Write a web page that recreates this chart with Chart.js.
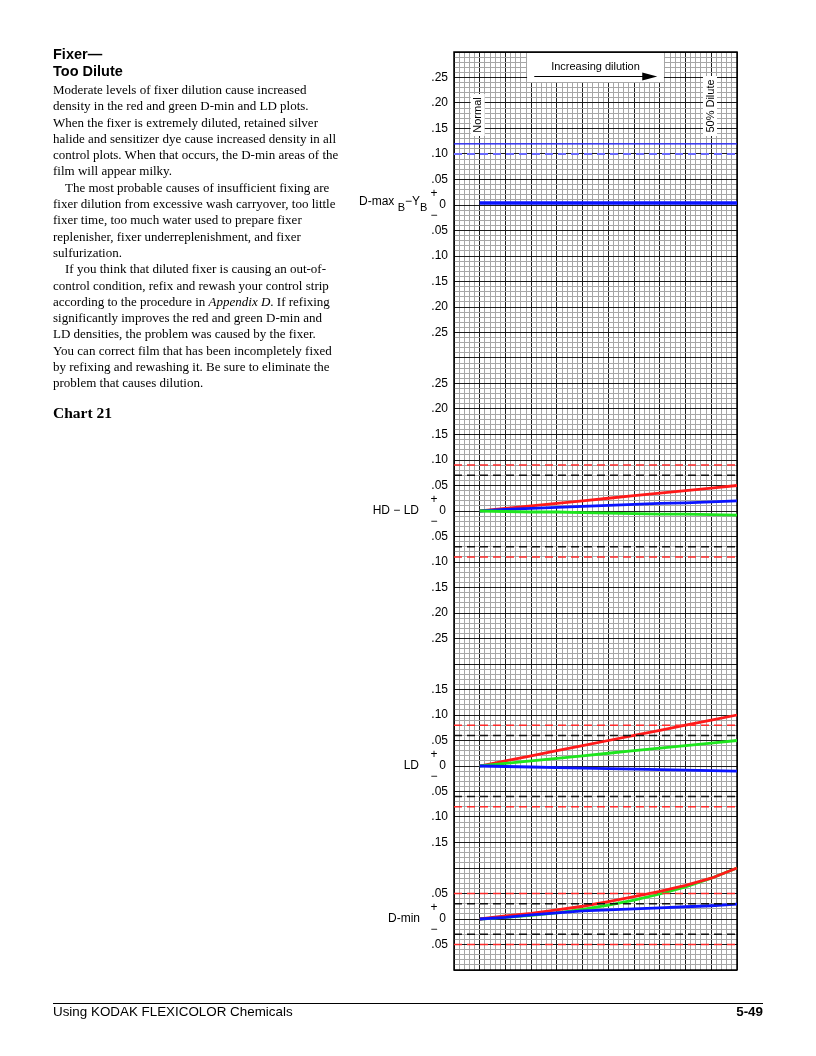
<!DOCTYPE html>
<html><head><meta charset="utf-8">
<script src="https://cdn.jsdelivr.net/npm/chart.js@4"></script>
<style>
html,body{margin:0;padding:0;background:#fff;}
#page{position:relative;width:816px;height:1056px;overflow:hidden;background:#fff;}
canvas{position:absolute;left:0;top:0;}
.t{position:absolute;white-space:nowrap;color:#000;}
.title{left:53px;top:46px;font:bold 14.5px "Liberation Sans",Arial,sans-serif;line-height:16.5px;}
.body{left:53px;top:82px;font:13px "Liberation Serif","Times New Roman",serif;line-height:16.3px;}
.body div{white-space:nowrap;}
.ind{padding-left:12px;}
.chart21{left:53px;top:404px;font:bold 15.5px "Liberation Serif","Times New Roman",serif;}
.rule{position:absolute;left:53px;top:1003px;width:710px;height:1px;background:#000;}
.foot{top:1004px;font:13.4px "Liberation Sans",Arial,sans-serif;}
</style></head><body>
<div id="page">
<canvas id="c" width="816" height="1056"></canvas>
<div class="t title">Fixer—<br>Too Dilute</div>
<div class="t body">
<div>Moderate levels of fixer dilution cause increased</div>
<div>density in the red and green D-min and LD plots.</div>
<div>When the fixer is extremely diluted, retained silver</div>
<div>halide and sensitizer dye cause increased density in all</div>
<div>control plots. When that occurs, the D-min areas of the</div>
<div>film will appear milky.</div>
<div class="ind">The most probable causes of insufficient fixing are</div>
<div>fixer dilution from excessive wash carryover, too little</div>
<div>fixer time, too much water used to prepare fixer</div>
<div>replenisher, fixer underreplenishment, and fixer</div>
<div>sulfurization.</div>
<div class="ind">If you think that diluted fixer is causing an out-of-</div>
<div>control condition, refix and rewash your control strip</div>
<div>according to the procedure in <i>Appendix D</i>. If refixing</div>
<div>significantly improves the red and green D-min and</div>
<div>LD densities, the problem was caused by the fixer.</div>
<div>You can correct film that has been incompletely fixed</div>
<div>by refixing and rewashing it. Be sure to eliminate the</div>
<div>problem that causes dilution.</div>
</div>
<div class="t chart21">Chart 21</div>
<div class="rule"></div>
<div class="t foot" style="left:53px;">Using KODAK FLEXICOLOR Chemicals</div>
<div class="t foot" style="right:53px;font-weight:bold;">5-49</div>
</div>
<script>
// ---- data (density deviations from normal, per dilution step) ----
const dilutionSteps = [1,2,3,4,5,6,7,8,9,10,11];
const dmaxBYBlue = [0.004,0.004,0.004,0.004,0.004,0.004,0.004,0.004,0.004,0.004,0.004];
const hdldRed   = [0,0.005,0.010,0.015,0.020,0.025,0.030,0.035,0.040,0.045,0.050];
const hdldBlue  = [0,0.003,0.005,0.007,0.009,0.011,0.013,0.015,0.016,0.018,0.020];
const hdldGreen = [0,-0.001,-0.002,-0.002,-0.003,-0.004,-0.005,-0.006,-0.006,-0.007,-0.008];
const ldRed     = [0,0.010,0.020,0.030,0.040,0.050,0.060,0.070,0.080,0.090,0.100];
const ldGreen   = [0,0.005,0.010,0.015,0.020,0.025,0.030,0.035,0.040,0.045,0.050];
const ldBlue    = [0,-0.001,-0.002,-0.003,-0.004,-0.005,-0.006,-0.007,-0.008,-0.009,-0.010];
const dminRed   = [0,0.006,0.011,0.018,0.025,0.034,0.044,0.054,0.066,0.080,0.100];
const dminGreen = [0,0.003,0.007,0.012,0.019,0.027,0.037,0.049,0.063,0.080,0.100];
const dminBlue  = [0,0.003,0.008,0.012,0.016,0.018,0.020,0.022,0.024,0.026,0.029];

// control limits
const dmaxUpperSolid = [0.12];
const dmaxUpperDashed = [0.10];
const hdldLimits = [0.07, 0.09];   // black, red
const ldLimits   = [0.06, 0.08];
const dminLimits = [0.03, 0.05];

// tick labels per plot
const dmaxTicks = [0.25,0.20,0.15,0.10,0.05,0,-0.05,-0.10,-0.15,-0.20,-0.25];
const hdldTicks = [0.25,0.20,0.15,0.10,0.05,0,-0.05,-0.10,-0.15,-0.20,-0.25];
const ldTicks   = [0.15,0.10,0.05,0,-0.05,-0.10,-0.15];
const dminTicks = [0.05,0,-0.05];

// where each plot's zero sits on the shared density axis
const zeroDmax = 1.40, zeroHdld = 0.80, zeroLd = 0.30, zeroDmin = 0;
const Y_MIN = -0.10, Y_MAX = 1.70, X_MIN = 0, X_MAX = 11;

const RED = '#ff1a1a', GREEN = '#1ee61e', BLUE = '#0a14ff';

function series(vals, zero){ return vals.map((v,i)=>({x:dilutionSteps[i], y:zero+v})); }
function hline(v, zero){ return [{x:X_MIN,y:zero+v},{x:X_MAX,y:zero+v}]; }
function line(data,color,w,dash){ return {data, borderColor:color, borderWidth:w, borderDash:dash||[], pointRadius:0, fill:false, tension:0, clip:false}; }

const datasets = [];
// limit lines
datasets.push(line(hline(dmaxUpperSolid[0],zeroDmax),'#1a1aff',1.3));
datasets.push(line(hline(dmaxUpperDashed[0],zeroDmax),'#6a6aff',1.8,[8,5]));
[[hdldLimits,zeroHdld],[ldLimits,zeroLd],[dminLimits,zeroDmin]].forEach(([lim,z])=>{
  datasets.push(line(hline(lim[0],z),'#111',1.5,[8,5]));
  datasets.push(line(hline(-lim[0],z),'#111',1.5,[8,5]));
  datasets.push(line(hline(lim[1],z),'#ff2a2a',1.5,[8,5]));
  datasets.push(line(hline(-lim[1],z),'#ff2a2a',1.5,[8,5]));
});
// plot lines
datasets.push(line(series(dmaxBYBlue,zeroDmax),BLUE,3.4));
datasets.push(line(series(hdldGreen,zeroHdld),GREEN,2.8));
datasets.push(line(series(hdldBlue,zeroHdld),BLUE,2.8));
datasets.push(line(series(hdldRed,zeroHdld),RED,2.8));
datasets.push(line(series(ldBlue,zeroLd),BLUE,2.8));
datasets.push(line(series(ldGreen,zeroLd),GREEN,2.8));
datasets.push(line(series(ldRed,zeroLd),RED,2.8));
datasets.push(line(series(dminBlue,zeroDmin),BLUE,2.8));
datasets.push(line(series(dminRed,zeroDmin),RED,2.8));
datasets.push(line(series(dminGreen,zeroDmin),GREEN,2.8));

const SANS = '"Liberation Sans", Arial, sans-serif';
function fmt(v){ if (Math.abs(v)<1e-9) return '0'; return '.' + String(Math.round(Math.abs(v)*100)).padStart(2,'0'); }

const decor = {
  id:'decor',
  beforeDatasetsDraw(chart){
    const {ctx, chartArea:a, scales:{x,y}} = chart;
    ctx.save();
    // Increasing dilution box
    const bx1 = x.getPixelForValue(2.84), bx2 = x.getPixelForValue(8.16);
    ctx.fillStyle='#fff';
    ctx.fillRect(bx1, a.top+1, bx2-bx1, 29);
    ctx.fillStyle='#000';
    ctx.font = '11px '+SANS;
    ctx.textAlign='center'; ctx.textBaseline='middle';
    ctx.fillText('Increasing dilution', (bx1+bx2)/2, a.top+14.5);
    const ax1 = x.getPixelForValue(3.12), ax2 = x.getPixelForValue(7.9);
    const ay = a.top+24.5;
    ctx.strokeStyle='#000'; ctx.lineWidth=1.2;
    ctx.beginPath(); ctx.moveTo(ax1,ay); ctx.lineTo(ax2-12,ay); ctx.stroke();
    ctx.beginPath(); ctx.moveTo(ax2,ay); ctx.lineTo(ax2-15,ay-4); ctx.lineTo(ax2-15,ay+4); ctx.closePath(); ctx.fill();
    // rotated labels
    function vlabel(txt, xv, cy, h){
      const px = x.getPixelForValue(xv);
      ctx.fillStyle='#fff';
      ctx.fillRect(px-7, cy-h/2, 14, h);
      ctx.save(); ctx.translate(px, cy); ctx.rotate(-Math.PI/2);
      ctx.fillStyle='#000'; ctx.font='11px '+SANS; ctx.textAlign='center'; ctx.textBaseline='middle';
      ctx.fillText(txt,0,0.5); ctx.restore();
    }
    vlabel('Normal', 0.92, a.top+63, 42);
    vlabel('50% Dilute', 9.95, a.top+54, 60);
    // outer frame
    ctx.strokeStyle='#000'; ctx.lineWidth=1.5;
    ctx.strokeRect(a.left, a.top, a.right-a.left, a.bottom-a.top);
    ctx.restore();
  },
  afterDraw(chart){
    const {ctx, scales:{y}} = chart;
    ctx.save();
    ctx.fillStyle='#000';
    ctx.font='12px '+SANS;
    ctx.textBaseline='middle';
    const plots = [[dmaxTicks,zeroDmax],[hdldTicks,zeroHdld],[ldTicks,zeroLd],[dminTicks,zeroDmin]];
    plots.forEach(([ticks,z])=>{
      ctx.textAlign='right';
      ticks.forEach(t=>{ ctx.fillText(fmt(t), t===0?446:448, y.getPixelForValue(z+t)); });
      const zp = y.getPixelForValue(z);
      ctx.textAlign='center';
      ctx.fillText('+', 434, zp-11);
      ctx.fillText('\u2212', 434, zp+11);
    });
    ctx.textAlign='right';
    ctx.fillText('HD \u2212 LD', 419, y.getPixelForValue(zeroHdld));
    ctx.fillText('LD', 419, y.getPixelForValue(zeroLd));
    ctx.fillText('D-min', 420, y.getPixelForValue(zeroDmin));
    // D-max B - Y B with subscripts
    const zp = y.getPixelForValue(zeroDmax);
    ctx.textAlign='left';
    let px = 359;
    const parts = [['D-max ',0],['B',1],['\u2212Y',0],['B',1]];
    parts.forEach(([t,sub])=>{
      ctx.font = (sub?'11px ':'12px ')+SANS;
      ctx.fillText(t, px, zp-3+(sub?6:0));
      px += ctx.measureText(t).width;
    });
    ctx.restore();
  }
};

function gridTicks(min,max,step){ const n=Math.round((max-min)/step); const out=[]; for(let i=0;i<=n;i++) out.push({value: Math.round((min+i*step)*1000)/1000}); return out; }

new Chart(document.getElementById('c'), {
  type:'line',
  data:{datasets},
  options:{
    responsive:false, animation:false, devicePixelRatio:1,
    layout:{padding:{left:454, top:52, right:79, bottom:86}},
    plugins:{legend:{display:false}, tooltip:{enabled:false}},
    scales:{
      x:{type:'linear', min:X_MIN, max:X_MAX,
         afterBuildTicks(s){ s.ticks = gridTicks(X_MIN,X_MAX,0.2); },
         afterFit(s){ s.height = 0; },
         ticks:{display:false},
         grid:{drawTicks:false, color:c=> c.index%5===0 ? '#1c1c1c' : '#a6a6a6', lineWidth:1},
         border:{display:false}},
      y:{type:'linear', min:Y_MIN, max:Y_MAX,
         afterBuildTicks(s){ s.ticks = gridTicks(Y_MIN,Y_MAX,0.01); },
         afterFit(s){ s.width = 0; },
         ticks:{display:false},
         grid:{drawTicks:false, color:c=> c.index%5===0 ? '#1c1c1c' : '#a6a6a6', lineWidth:1},
         border:{display:false}}
    }
  },
  plugins:[decor]
});
</script>
</body></html>
